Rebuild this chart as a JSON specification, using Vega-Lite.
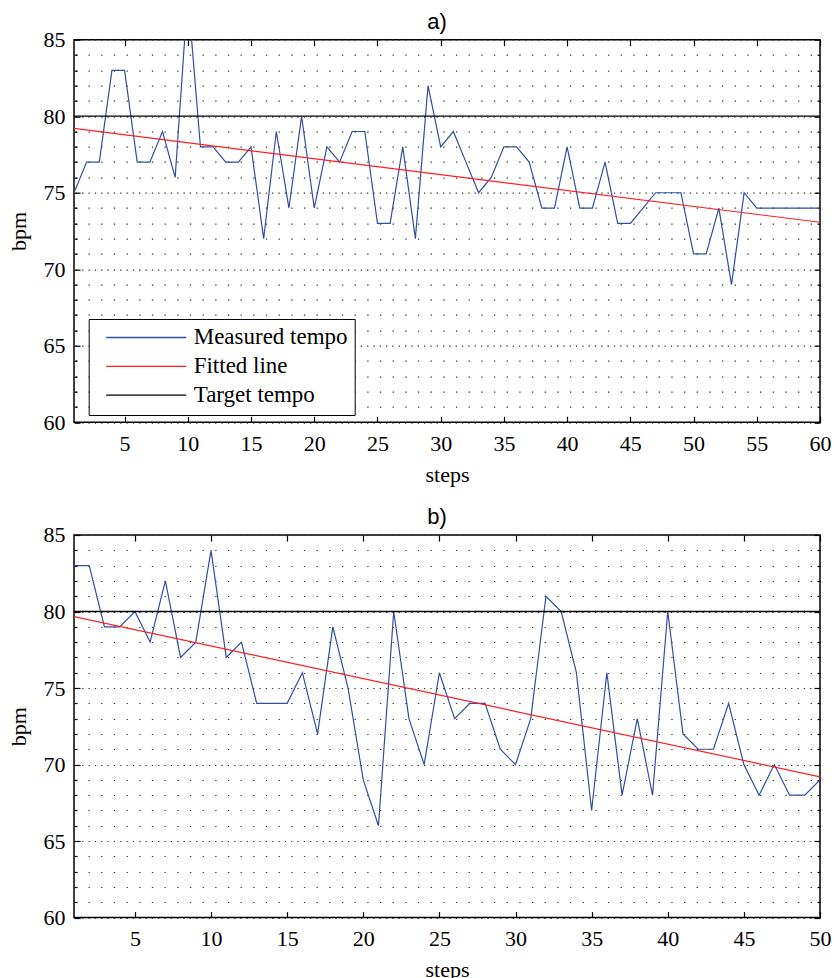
{
  "$schema": "https://vega.github.io/schema/vega-lite/v6.json",
  "background": "white",
  "padding": {"left": 6, "top": 9.7, "right": 10, "bottom": 0},
  "spacing": 18.3,
  "datasets": {
    "a": [
      {"series": "Measured tempo", "step": 1, "bpm": 75}, {"series": "Measured tempo", "step": 2, "bpm": 77},
      {"series": "Measured tempo", "step": 3, "bpm": 77}, {"series": "Measured tempo", "step": 4, "bpm": 83},
      {"series": "Measured tempo", "step": 5, "bpm": 83}, {"series": "Measured tempo", "step": 6, "bpm": 77},
      {"series": "Measured tempo", "step": 7, "bpm": 77}, {"series": "Measured tempo", "step": 8, "bpm": 79},
      {"series": "Measured tempo", "step": 9, "bpm": 76}, {"series": "Measured tempo", "step": 10, "bpm": 88},
      {"series": "Measured tempo", "step": 11, "bpm": 78}, {"series": "Measured tempo", "step": 12, "bpm": 78},
      {"series": "Measured tempo", "step": 13, "bpm": 77}, {"series": "Measured tempo", "step": 14, "bpm": 77},
      {"series": "Measured tempo", "step": 15, "bpm": 78}, {"series": "Measured tempo", "step": 16, "bpm": 72},
      {"series": "Measured tempo", "step": 17, "bpm": 79}, {"series": "Measured tempo", "step": 18, "bpm": 74},
      {"series": "Measured tempo", "step": 19, "bpm": 80}, {"series": "Measured tempo", "step": 20, "bpm": 74},
      {"series": "Measured tempo", "step": 21, "bpm": 78}, {"series": "Measured tempo", "step": 22, "bpm": 77},
      {"series": "Measured tempo", "step": 23, "bpm": 79}, {"series": "Measured tempo", "step": 24, "bpm": 79},
      {"series": "Measured tempo", "step": 25, "bpm": 73}, {"series": "Measured tempo", "step": 26, "bpm": 73},
      {"series": "Measured tempo", "step": 27, "bpm": 78}, {"series": "Measured tempo", "step": 28, "bpm": 72},
      {"series": "Measured tempo", "step": 29, "bpm": 82}, {"series": "Measured tempo", "step": 30, "bpm": 78},
      {"series": "Measured tempo", "step": 31, "bpm": 79}, {"series": "Measured tempo", "step": 32, "bpm": 77},
      {"series": "Measured tempo", "step": 33, "bpm": 75}, {"series": "Measured tempo", "step": 34, "bpm": 76},
      {"series": "Measured tempo", "step": 35, "bpm": 78}, {"series": "Measured tempo", "step": 36, "bpm": 78},
      {"series": "Measured tempo", "step": 37, "bpm": 77}, {"series": "Measured tempo", "step": 38, "bpm": 74},
      {"series": "Measured tempo", "step": 39, "bpm": 74}, {"series": "Measured tempo", "step": 40, "bpm": 78},
      {"series": "Measured tempo", "step": 41, "bpm": 74}, {"series": "Measured tempo", "step": 42, "bpm": 74},
      {"series": "Measured tempo", "step": 43, "bpm": 77}, {"series": "Measured tempo", "step": 44, "bpm": 73},
      {"series": "Measured tempo", "step": 45, "bpm": 73}, {"series": "Measured tempo", "step": 46, "bpm": 74},
      {"series": "Measured tempo", "step": 47, "bpm": 75}, {"series": "Measured tempo", "step": 48, "bpm": 75},
      {"series": "Measured tempo", "step": 49, "bpm": 75}, {"series": "Measured tempo", "step": 50, "bpm": 71},
      {"series": "Measured tempo", "step": 51, "bpm": 71}, {"series": "Measured tempo", "step": 52, "bpm": 74},
      {"series": "Measured tempo", "step": 53, "bpm": 69}, {"series": "Measured tempo", "step": 54, "bpm": 75},
      {"series": "Measured tempo", "step": 55, "bpm": 74}, {"series": "Measured tempo", "step": 56, "bpm": 74},
      {"series": "Measured tempo", "step": 57, "bpm": 74}, {"series": "Measured tempo", "step": 58, "bpm": 74},
      {"series": "Measured tempo", "step": 59, "bpm": 74}, {"series": "Measured tempo", "step": 60, "bpm": 74},
      {"series": "Fitted line", "step": 1, "bpm": 79.2}, {"series": "Fitted line", "step": 60, "bpm": 73.07},
      {"series": "Target tempo", "step": 1, "bpm": 80}, {"series": "Target tempo", "step": 60, "bpm": 80}
    ],
    "b": [
      {"series": "Measured tempo", "step": 1, "bpm": 83}, {"series": "Measured tempo", "step": 2, "bpm": 83},
      {"series": "Measured tempo", "step": 3, "bpm": 79}, {"series": "Measured tempo", "step": 4, "bpm": 79},
      {"series": "Measured tempo", "step": 5, "bpm": 80}, {"series": "Measured tempo", "step": 6, "bpm": 78},
      {"series": "Measured tempo", "step": 7, "bpm": 82}, {"series": "Measured tempo", "step": 8, "bpm": 77},
      {"series": "Measured tempo", "step": 9, "bpm": 78}, {"series": "Measured tempo", "step": 10, "bpm": 84},
      {"series": "Measured tempo", "step": 11, "bpm": 77}, {"series": "Measured tempo", "step": 12, "bpm": 78},
      {"series": "Measured tempo", "step": 13, "bpm": 74}, {"series": "Measured tempo", "step": 14, "bpm": 74},
      {"series": "Measured tempo", "step": 15, "bpm": 74}, {"series": "Measured tempo", "step": 16, "bpm": 76},
      {"series": "Measured tempo", "step": 17, "bpm": 72}, {"series": "Measured tempo", "step": 18, "bpm": 79},
      {"series": "Measured tempo", "step": 19, "bpm": 75}, {"series": "Measured tempo", "step": 20, "bpm": 69},
      {"series": "Measured tempo", "step": 21, "bpm": 66}, {"series": "Measured tempo", "step": 22, "bpm": 80},
      {"series": "Measured tempo", "step": 23, "bpm": 73}, {"series": "Measured tempo", "step": 24, "bpm": 70},
      {"series": "Measured tempo", "step": 25, "bpm": 76}, {"series": "Measured tempo", "step": 26, "bpm": 73},
      {"series": "Measured tempo", "step": 27, "bpm": 74}, {"series": "Measured tempo", "step": 28, "bpm": 74},
      {"series": "Measured tempo", "step": 29, "bpm": 71}, {"series": "Measured tempo", "step": 30, "bpm": 70},
      {"series": "Measured tempo", "step": 31, "bpm": 73}, {"series": "Measured tempo", "step": 32, "bpm": 81},
      {"series": "Measured tempo", "step": 33, "bpm": 80}, {"series": "Measured tempo", "step": 34, "bpm": 76},
      {"series": "Measured tempo", "step": 35, "bpm": 67}, {"series": "Measured tempo", "step": 36, "bpm": 76},
      {"series": "Measured tempo", "step": 37, "bpm": 68}, {"series": "Measured tempo", "step": 38, "bpm": 73},
      {"series": "Measured tempo", "step": 39, "bpm": 68}, {"series": "Measured tempo", "step": 40, "bpm": 80},
      {"series": "Measured tempo", "step": 41, "bpm": 72}, {"series": "Measured tempo", "step": 42, "bpm": 71},
      {"series": "Measured tempo", "step": 43, "bpm": 71}, {"series": "Measured tempo", "step": 44, "bpm": 74},
      {"series": "Measured tempo", "step": 45, "bpm": 70}, {"series": "Measured tempo", "step": 46, "bpm": 68},
      {"series": "Measured tempo", "step": 47, "bpm": 70}, {"series": "Measured tempo", "step": 48, "bpm": 68},
      {"series": "Measured tempo", "step": 49, "bpm": 68}, {"series": "Measured tempo", "step": 50, "bpm": 69},
      {"series": "Fitted line", "step": 1, "bpm": 79.67}, {"series": "Fitted line", "step": 50, "bpm": 69.2},
      {"series": "Target tempo", "step": 1, "bpm": 80}, {"series": "Target tempo", "step": 50, "bpm": 80}
    ]
  },
  "vconcat": [
    {
      "data": {"name": "a"},
      "width": 746,
      "height": 382.6,
      "title": {"text": "a)", "font": "Liberation Sans", "fontSize": 22, "fontWeight": "normal", "color": "black", "dx": -10, "offset": -5},
      "layer": [
        {
          "transform": [{"filter": "datum.series !== 'Target tempo'"}],
          "mark": {"type": "line", "clip": true, "strokeWidth": 1.2},
          "encoding": {
            "x": {"field": "step", "type": "quantitative", "scale": {"domain": [1, 60], "nice": false, "zero": false},
              "axis": {"orient": "bottom", "values": [5, 10, 15, 20, 25, 30, 35, 40, 45, 50, 55, 60], "title": "steps", "grid": false, "domain": false,
                "tickSize": -6, "tickColor": "black", "tickWidth": 1.2, "labelFont": "Liberation Serif", "labelFontSize": 22, "labelColor": "black", "labelPadding": 17, "labelFlush": false, "labelOverlap": false,
                "titleFont": "Liberation Serif", "titleFontSize": 22, "titleFontWeight": "normal", "titleColor": "black", "titlePadding": 10}},
            "y": {"field": "bpm", "type": "quantitative", "scale": {"domain": [60, 85], "nice": false, "zero": false},
              "axis": {"orient": "left", "values": [60,61,62,63,64,65,66,67,68,69,70,71,72,73,74,75,76,77,78,79,80,81,82,83,84,85], "title": "bpm", "domain": false,
                "labelExpr": "datum.value % 5 === 0 ? datum.label : ''", "labelOverlap": false, "labelFlush": false,
                "tickColor": "black", "tickWidth": 1.2, "tickSize": {"condition": {"test": "datum.value % 5 === 0", "value": -6}, "value": -3},
                "labelFont": "Liberation Serif", "labelFontSize": 22, "labelColor": "black", "labelPadding": 15,
                "grid": true, "gridColor": "#333333", "gridOpacity": 1, "gridWidth": 1.2,
                "gridDash": {"condition": {"test": "datum.value % 5 === 0", "value": [1.3, 5.03]}, "value": [1.3, 11.37]},
                "gridDashOffset": {"condition": {"test": "datum.value % 5 === 0", "value": 5.0}, "value": 11.33},
                "titleFont": "Liberation Serif", "titleFontSize": 22, "titleFontWeight": "normal", "titleColor": "black", "titlePadding": 13}},
            "color": {"field": "series", "type": "nominal",
              "scale": {"domain": ["Measured tempo", "Fitted line", "Target tempo"], "range": ["#2f4fa5", "#ff1f1f", "#000000"]},
              "legend": {"orient": "none", "legendX": 14.7, "legendY": 279.3, "title": null, "symbolType": "M-4,0H4", "symbolSize": 400, "symbolStrokeWidth": 1.3,
                "symbolOffset": 39, "labelOffset": 36, "padding": 7, "rowPadding": 4.8, "labelFont": "Liberation Serif", "labelFontSize": 23, "labelColor": "black", "labelLimit": 400,
                "strokeColor": "black", "fillColor": "white"}}
          }
        },
        {
          "transform": [{"filter": "datum.series === 'Target tempo'"}],
          "mark": {"type": "line", "clip": true, "strokeWidth": 1.3},
          "encoding": {
            "x": {"field": "step", "type": "quantitative",
              "axis": {"orient": "top", "values": [5, 10, 15, 20, 25, 30, 35, 40, 45, 50, 55, 60], "title": null, "labels": false, "grid": false, "domain": false, "tickSize": -6, "tickColor": "black", "tickWidth": 1.2}},
            "y": {"field": "bpm", "type": "quantitative",
              "axis": {"orient": "right", "values": [60,61,62,63,64,65,66,67,68,69,70,71,72,73,74,75,76,77,78,79,80,81,82,83,84,85], "title": null, "labels": false, "grid": false, "domain": false,
                "tickColor": "black", "tickWidth": 1.2, "tickSize": {"condition": {"test": "datum.value % 5 === 0", "value": -6}, "value": -3}}},
            "color": {"field": "series", "type": "nominal"}
          }
        }
      ],
      "resolve": {"axis": {"x": "independent", "y": "independent"}}
    },
    {
      "data": {"name": "b"},
      "width": 746,
      "height": 382.6,
      "title": {"text": "b)", "font": "Liberation Sans", "fontSize": 22, "fontWeight": "normal", "color": "black", "dx": -10, "offset": -5},
      "layer": [
        {
          "transform": [{"filter": "datum.series !== 'Target tempo'"}],
          "mark": {"type": "line", "clip": true, "strokeWidth": 1.2},
          "encoding": {
            "x": {"field": "step", "type": "quantitative", "scale": {"domain": [1, 50], "nice": false, "zero": false},
              "axis": {"orient": "bottom", "values": [5, 10, 15, 20, 25, 30, 35, 40, 45, 50], "title": "steps", "grid": false, "domain": false,
                "tickSize": -6, "tickColor": "black", "tickWidth": 1.2, "labelFont": "Liberation Serif", "labelFontSize": 22, "labelColor": "black", "labelPadding": 17, "labelFlush": false, "labelOverlap": false,
                "titleFont": "Liberation Serif", "titleFontSize": 22, "titleFontWeight": "normal", "titleColor": "black", "titlePadding": 10}},
            "y": {"field": "bpm", "type": "quantitative", "scale": {"domain": [60, 85], "nice": false, "zero": false},
              "axis": {"orient": "left", "values": [60,61,62,63,64,65,66,67,68,69,70,71,72,73,74,75,76,77,78,79,80,81,82,83,84,85], "title": "bpm", "domain": false,
                "labelExpr": "datum.value % 5 === 0 ? datum.label : ''", "labelOverlap": false, "labelFlush": false,
                "tickColor": "black", "tickWidth": 1.2, "tickSize": {"condition": {"test": "datum.value % 5 === 0", "value": -6}, "value": -3},
                "labelFont": "Liberation Serif", "labelFontSize": 22, "labelColor": "black", "labelPadding": 15,
                "grid": true, "gridColor": "#333333", "gridOpacity": 1, "gridWidth": 1.2,
                "gridDash": {"condition": {"test": "datum.value % 5 === 0", "value": [1.3, 5.03]}, "value": [1.3, 11.37]},
                "gridDashOffset": {"condition": {"test": "datum.value % 5 === 0", "value": 5.0}, "value": 11.33},
                "titleFont": "Liberation Serif", "titleFontSize": 22, "titleFontWeight": "normal", "titleColor": "black", "titlePadding": 13}},
            "color": {"field": "series", "type": "nominal",
              "scale": {"domain": ["Measured tempo", "Fitted line", "Target tempo"], "range": ["#2f4fa5", "#ff1f1f", "#000000"]},
              "legend": {"orient": "none", "legendX": 14.7, "legendY": 278.3, "title": null, "symbolType": "M-4,0H4", "symbolSize": 400, "symbolStrokeWidth": 1.3,
                "symbolOffset": 39, "labelOffset": 36, "padding": 7, "rowPadding": 4.8, "labelFont": "Liberation Serif", "labelFontSize": 23, "labelColor": "black", "labelLimit": 400,
                "strokeColor": "black", "fillColor": "white"}}
          }
        },
        {
          "transform": [{"filter": "datum.series === 'Target tempo'"}],
          "mark": {"type": "line", "clip": true, "strokeWidth": 1.3},
          "encoding": {
            "x": {"field": "step", "type": "quantitative",
              "axis": {"orient": "top", "values": [5, 10, 15, 20, 25, 30, 35, 40, 45, 50], "title": null, "labels": false, "grid": false, "domain": false, "tickSize": -6, "tickColor": "black", "tickWidth": 1.2}},
            "y": {"field": "bpm", "type": "quantitative",
              "axis": {"orient": "right", "values": [60,61,62,63,64,65,66,67,68,69,70,71,72,73,74,75,76,77,78,79,80,81,82,83,84,85], "title": null, "labels": false, "grid": false, "domain": false,
                "tickColor": "black", "tickWidth": 1.2, "tickSize": {"condition": {"test": "datum.value % 5 === 0", "value": -6}, "value": -3}}},
            "color": {"field": "series", "type": "nominal"}
          }
        }
      ],
      "resolve": {"axis": {"x": "independent", "y": "independent"}}
    }
  ],
  "config": {
    "view": {"stroke": "black", "strokeWidth": 1.5}
  }
}
